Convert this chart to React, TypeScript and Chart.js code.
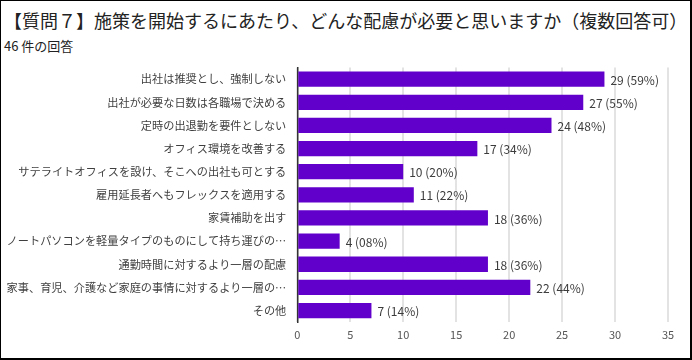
import React, { useEffect, useRef } from "react";
import { Chart, registerables } from "chart.js";

Chart.register(...registerables);

const titleText = "【質問７】施策を開始するにあたり、どんな配慮が必要と思いますか（複数回答可）";
const subtitleText = "46 件の回答";

const categories = [
  "出社は推奨とし、強制しない",
  "出社が必要な日数は各職場で決める",
  "定時の出退勤を要件としない",
  "オフィス環境を改善する",
  "サテライトオフィスを設け、そこへの出社も可とする",
  "雇用延長者へもフレックスを適用する",
  "家賃補助を出す",
  "ノートパソコンを軽量タイプのものにして持ち運びの…",
  "通勤時間に対するより一層の配慮",
  "家事、育児、介護など家庭の事情に対するより一層の…",
  "その他",
];

const counts = [29, 27, 24, 17, 10, 11, 18, 4, 18, 22, 7];
const percents = ["59%", "55%", "48%", "34%", "20%", "22%", "36%", "08%", "36%", "44%", "14%"];

const xMin = 0;
const xMax = 35;
const xStep = 5;

const FONT = '"Noto Sans CJK JP", "Noto Sans", sans-serif';

const valueLabels = {
  id: "valueLabels",
  afterDatasetsDraw(chart: any) {
    const ctx = chart.ctx;
    const meta = chart.getDatasetMeta(0);
    ctx.save();
    ctx.font = `12px ${FONT}`;
    ctx.fillStyle = "#3c3c3c";
    ctx.textAlign = "left";
    ctx.textBaseline = "middle";
    meta.data.forEach((bar: any, i: number) => {
      ctx.fillText(`${counts[i]} (${percents[i]})`, bar.x + 6, bar.y + 1);
    });
    ctx.restore();
  },
};

export default function App() {
  const ref = useRef<HTMLCanvasElement | null>(null);

  useEffect(() => {
    if (!ref.current) return;
    const chart = new Chart(ref.current, {
      type: "bar",
      data: {
        labels: categories,
        datasets: [
          {
            data: counts,
            backgroundColor: "#6200cb",
            borderWidth: 0,
            categoryPercentage: 1,
            barPercentage: 0.66,
          },
        ],
      },
      options: {
        indexAxis: "y",
        responsive: false,
        animation: false,
        layout: { padding: { top: 67.6, right: 24, bottom: 0, left: 0 } },
        plugins: {
          legend: { display: false },
          title: { display: false },
          tooltip: { enabled: false },
        },
        scales: {
          x: {
            type: "linear",
            min: xMin,
            max: xMax,
            ticks: {
              stepSize: xStep,
              color: "#555",
              font: { family: FONT, size: 11 },
              padding: 6,
            },
            grid: {
              color: "#e3e3e3",
              lineWidth: 2,
              drawTicks: false,
            },
            border: { display: false },
            afterFit: (scale: any) => {
              scale.height = 37.9;
            },
          },
          y: {
            type: "category",
            ticks: {
              color: "#3f3f3f",
              font: { family: FONT, size: 11.2 },
              padding: 11,
              autoSkip: false,
            },
            grid: { display: false, drawTicks: false },
            border: { display: true, color: "#333", width: 1.5 },
            afterFit: (scale: any) => {
              scale.width = 297.3;
            },
          },
        },
      },
      plugins: [valueLabels],
    } as any);
    return () => chart.destroy();
  }, []);

  return (
    <div
      style={{
        position: "absolute",
        left: 0,
        top: 0,
        width: 692,
        height: 360,
        background: "#fff",
        overflow: "hidden",
        fontFamily: FONT,
      }}
    >
      <div
        style={{
          position: "absolute",
          left: 4,
          top: 11,
          fontSize: 18,
          lineHeight: "18px",
          color: "#222",
          whiteSpace: "nowrap",
        }}
      >
        {titleText}
      </div>
      <div
        style={{
          position: "absolute",
          left: 4,
          top: 39,
          fontSize: 13,
          lineHeight: "13px",
          color: "#222",
          whiteSpace: "nowrap",
        }}
      >
        {subtitleText}
      </div>
      <canvas
        ref={ref}
        width={692}
        height={360}
        style={{ position: "absolute", left: 0, top: 0, width: 692, height: 360 }}
      />
      <div
        style={{
          position: "absolute",
          left: 0,
          top: 0,
          width: 692,
          height: 360,
          boxSizing: "border-box",
          borderStyle: "solid",
          borderColor: "#000",
          borderWidth: "1px 2px 2px 1px",
          pointerEvents: "none",
        }}
      />
    </div>
  );
}
